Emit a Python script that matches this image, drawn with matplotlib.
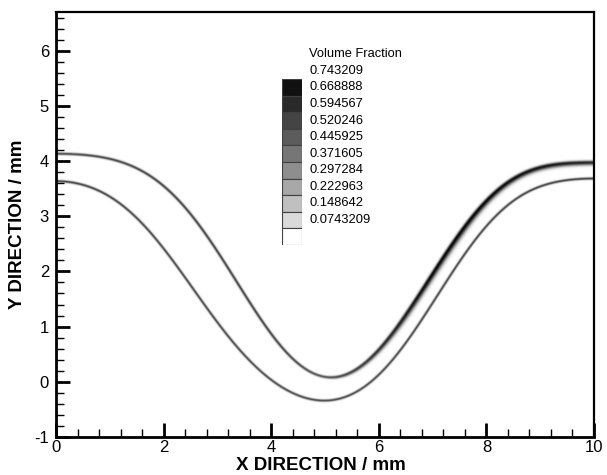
import numpy as np
import matplotlib
matplotlib.use("Agg")
import matplotlib.pyplot as plt
from matplotlib.colors import LinearSegmentedColormap
from matplotlib.ticker import MultipleLocator

# ---- data ----
upper_x = [0.0, 0.62, 1.24, 1.86, 2.35, 2.79, 3.10, 3.42, 3.85, 4.22, 4.60, 5.02, 5.40, 5.77, 6.39, 7.01, 7.51, 8.01, 8.55, 9.18, 10.0]
upper_y = [4.14, 4.11, 3.96, 3.63, 3.21, 2.70, 2.27, 1.66, 1.03, 0.59, 0.28, 0.11, 0.16, 0.35, 1.01, 1.97, 2.76, 3.30, 3.66, 3.90, 4.01]
lower_x = [0.0, 0.40, 0.93, 1.36, 1.73, 2.11, 2.49, 2.99, 3.48, 3.98, 4.47, 4.97, 5.46, 5.77, 6.39, 7.01, 7.51, 8.01, 8.50, 9.12, 10.0]
lower_y = [3.63, 3.59, 3.39, 3.10, 2.76, 2.28, 1.70, 1.10, 0.52, 0.06, -0.23, -0.36, -0.29, -0.03, 0.59, 1.43, 2.16, 2.82, 3.30, 3.60, 3.66]

# peak volume fraction along each interface
upper_peak_x = [0, 2, 4, 5, 6, 7, 8, 9, 10]
upper_peak = [0.55, 0.58, 0.58, 0.52, 0.62, 0.74, 0.74, 0.70, 0.64]
lower_peak_x = [0, 5, 10]
lower_peak = [0.58, 0.55, 0.58]

legend_levels = [0.743209, 0.668888, 0.594567, 0.520246, 0.445925,
                 0.371605, 0.297284, 0.222963, 0.148642, 0.0743209]
legend_labels = ["0.743209", "0.668888", "0.594567", "0.520246", "0.445925",
                 "0.371605", "0.297284", "0.222963", "0.148642", "0.0743209"]
legend_title = "Volume Fraction"
x_ticks = [0, 2, 4, 6, 8, 10]
y_ticks = [-1, 0, 1, 2, 3, 4, 5, 6]
x_label = "X DIRECTION / mm"
y_label = "Y DIRECTION / mm"
VMAX = 0.743209


def smooth_curve(xs, ys, xq, n_terms=8):
    """Least-squares cosine-series fit through the read points (smooth wall shape)."""
    xs = np.asarray(xs, float)
    ys = np.asarray(ys, float)
    A = np.stack([np.cos(k * np.pi * xs / 10.0) for k in range(n_terms)], axis=1)
    coef, *_ = np.linalg.lstsq(A, ys, rcond=None)
    Aq = np.stack([np.cos(k * np.pi * xq / 10.0) for k in range(n_terms)], axis=1)
    return Aq @ coef


plt.rcParams['font.family'] = ['Liberation Sans', 'DejaVu Sans']

fig = plt.figure(figsize=(6.07, 4.75), dpi=100)
ax = fig.add_axes([56 / 607, 38 / 475, 538 / 607, 425 / 475])

nx, ny = 1400, 1100
xg = np.linspace(0, 10, nx)
yg = np.linspace(-1, 6.7, ny)
Y = yg[:, None]


def band(cx, cy, px, pk, w_up, w_dn):
    yc = smooth_curve(cx, cy, xg)
    s = np.gradient(yc, xg)
    c = 1.0 / np.sqrt(1 + s**2)
    d = (Y - yc[None, :]) * c[None, :]
    peak = np.interp(xg, px, pk)[None, :]
    w = np.where(d > 0, w_up[None, :], w_dn[None, :])
    return peak * np.exp(-(d / w) ** 2)


wu_up = np.interp(xg, [0, 5, 6.5, 10], [0.024, 0.024, 0.033, 0.035])
wu_dn = np.interp(xg, [0, 5, 6.5, 7.5, 10], [0.024, 0.026, 0.06, 0.07, 0.05])
wl = np.interp(xg, [0, 10], [0.023, 0.023])

field = band(upper_x, upper_y, upper_peak_x, upper_peak, wu_up, wu_dn)
field = np.maximum(field, band(lower_x, lower_y, lower_peak_x, lower_peak, wl, wl))

cmap = LinearSegmentedColormap.from_list("vf", [(1, 1, 1), (0.02, 0.02, 0.02)])
ax.imshow(field, origin='lower', extent=[0, 10, -1, 6.7], aspect='auto',
          cmap=cmap, vmin=0, vmax=VMAX, interpolation='antialiased')

ax.set_xlim(0, 10)
ax.set_ylim(-1, 6.7)
ax.set_xticks(x_ticks)
ax.set_yticks(y_ticks)
ax.set_xticklabels([str(v) for v in x_ticks])
ax.set_yticklabels([str(v) for v in y_ticks])
ax.xaxis.set_minor_locator(MultipleLocator(0.4))
ax.yaxis.set_minor_locator(MultipleLocator(0.2))
ax.tick_params(which='major', direction='in', length=10, width=2, labelsize=12,
               top=False, right=False)
ax.tick_params(axis='x', which='major', pad=2)
ax.tick_params(axis='y', which='major', pad=5)
ax.tick_params(which='minor', direction='in', length=6, width=1,
               top=False, right=False)
for side in ['left', 'bottom']:
    ax.spines[side].set_linewidth(2)
for side in ['top', 'right']:
    ax.spines[side].set_linewidth(1.6)

fig.text(321 / 607, (475 - 466) / 475, x_label, fontsize=13.5, fontweight='bold',
         ha='center', va='center')
ax.set_ylabel(y_label, fontsize=13.5, fontweight='bold', labelpad=6)

# ---- legend ----
bar_top, bar_bot = 79, 245
lax = fig.add_axes([282 / 607, (475 - bar_bot) / 475, 20 / 607, (bar_bot - bar_top) / 475])
n_box = len(legend_levels)
box_vals = [v + VMAX / 20 for v in legend_levels[1:]] + [0.0]
for i, v in enumerate(box_vals):
    lax.bar(0.5, 1, bottom=n_box - 1 - i, width=1, color=cmap(min(v / VMAX, 1.0)),
            edgecolor=(0.25, 0.25, 0.25), linewidth=0.8)
lax.set_xlim(0, 1)
lax.set_ylim(0, n_box)
lax.axis('off')

box_h = (bar_bot - bar_top) / n_box
fig.text(309 / 607, (475 - 54) / 475, legend_title, fontsize=9.3, va='center', ha='left')
for i, lab in enumerate(legend_labels):
    py = bar_top + (i - 0.5) * box_h
    fig.text(309 / 607, (475 - py) / 475, lab, fontsize=9.3, va='center', ha='left')

fig.savefig("out.png", dpi=100)
